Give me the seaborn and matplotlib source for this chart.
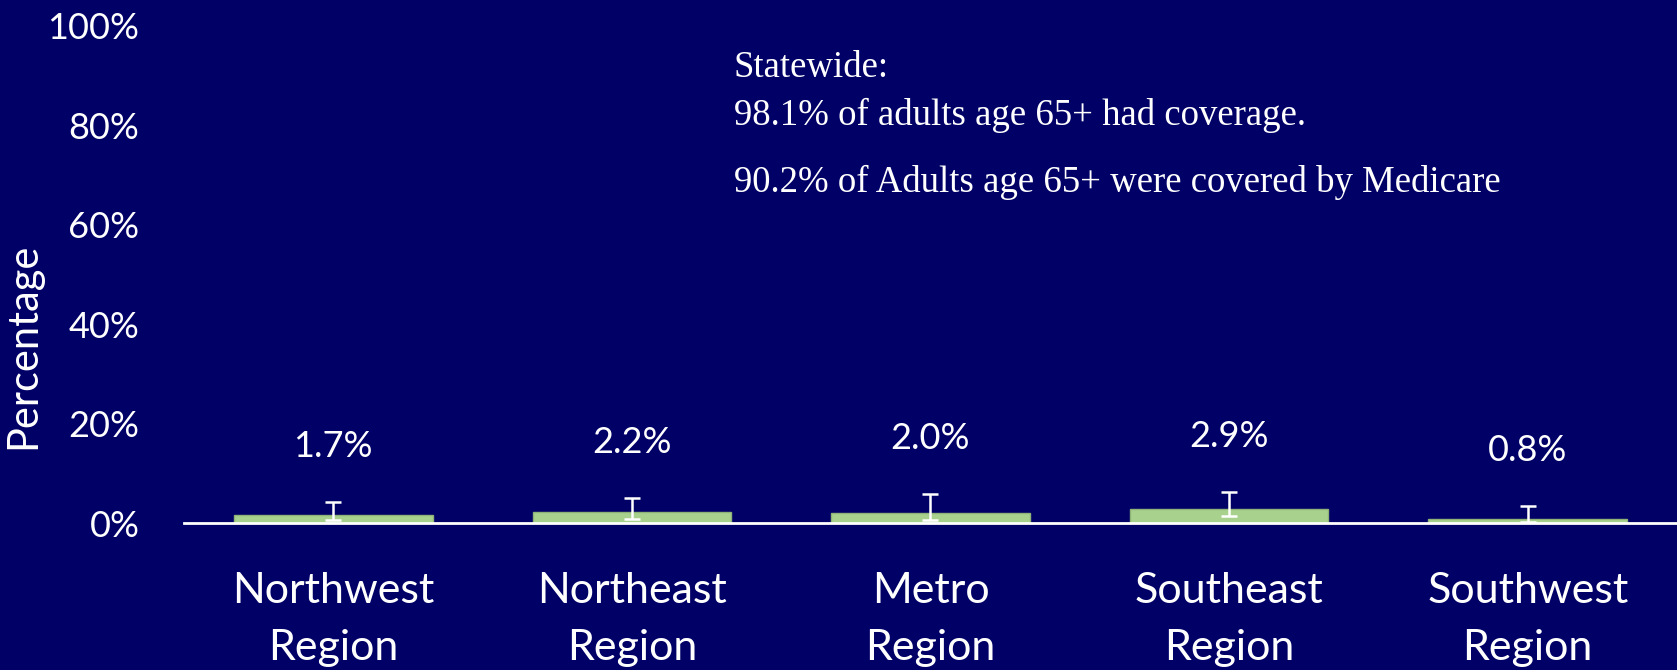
import pandas as pd
import seaborn as sns
import matplotlib.pyplot as plt
from matplotlib.ticker import PercentFormatter

# values
regions = ["Northwest\nRegion", "Northeast\nRegion", "Metro\nRegion",
           "Southeast\nRegion", "Southwest\nRegion"]
pct = [1.7, 2.2, 2.0, 2.9, 0.8]
ci_low = [0.6, 0.9, 0.7, 1.4, 0.3]
ci_high = [4.3, 5.1, 5.8, 6.2, 3.4]
y_ticks = [0, 20, 40, 60, 80, 100]
note_lines = ["Statewide:", "98.1% of adults age 65+ had coverage.",
              "90.2% of Adults age 65+ were covered by Medicare"]

navy = "#000066"
green = "#A9D18E"

sns.set_theme(style="white")
plt.rcParams["font.family"] = ["Lato", "DejaVu Sans"]

df = pd.DataFrame({"region": regions, "pct": pct})

fig = plt.figure(figsize=(16.77, 6.70), dpi=100, facecolor=navy)
ax = fig.add_axes([0.1097, 0.2194, 0.8903, 0.7418])
ax.set_facecolor(navy)

sns.barplot(data=df, x="region", y="pct", color=green, width=0.665,
            edgecolor="#8fb377", linewidth=1, saturation=1, ax=ax)

# asymmetric confidence intervals
lower = [p - lo for p, lo in zip(pct, ci_low)]
upper = [hi - p for p, hi in zip(pct, ci_high)]
ax.errorbar(range(len(pct)), pct, yerr=[lower, upper], fmt="none",
            ecolor="white", elinewidth=1.8, capsize=6, capthick=1.8)

for i, (p, hi) in enumerate(zip(pct, ci_high)):
    ax.annotate(f"{p:.1f}%", (i, hi), xytext=(0, 40), textcoords="offset points",
                ha="center", va="center", color="white", fontsize=26)

ax.set_xlim(-0.5, len(pct) - 0.5)
ax.set_ylim(0, 100)
ax.set_yticks(y_ticks)
ax.yaxis.set_major_formatter(PercentFormatter(decimals=0))
ax.tick_params(axis="y", length=0, pad=32, labelsize=26, colors="white")
ax.tick_params(axis="x", length=0, pad=35, labelsize=31, colors="white")
for lbl in ax.get_xticklabels():
    lbl.set_linespacing(1.62)
ax.set_xlabel("")
ax.set_ylabel("Percentage", color="white", fontsize=30)
ax.yaxis.set_label_coords(-0.095, 0.357)

for side in ["top", "right", "left"]:
    ax.spines[side].set_visible(False)
ax.spines["bottom"].set_color("white")
ax.spines["bottom"].set_linewidth(2)

note_y = [1 - 77 / 670, 1 - 125 / 670, 1 - 192 / 670]
for line, y in zip(note_lines, note_y):
    fig.text(734 / 1677, y, line, color="white", fontsize=26.5,
             family="Liberation Serif", va="baseline", ha="left")

fig.savefig("out.png", dpi=100, facecolor=navy)
